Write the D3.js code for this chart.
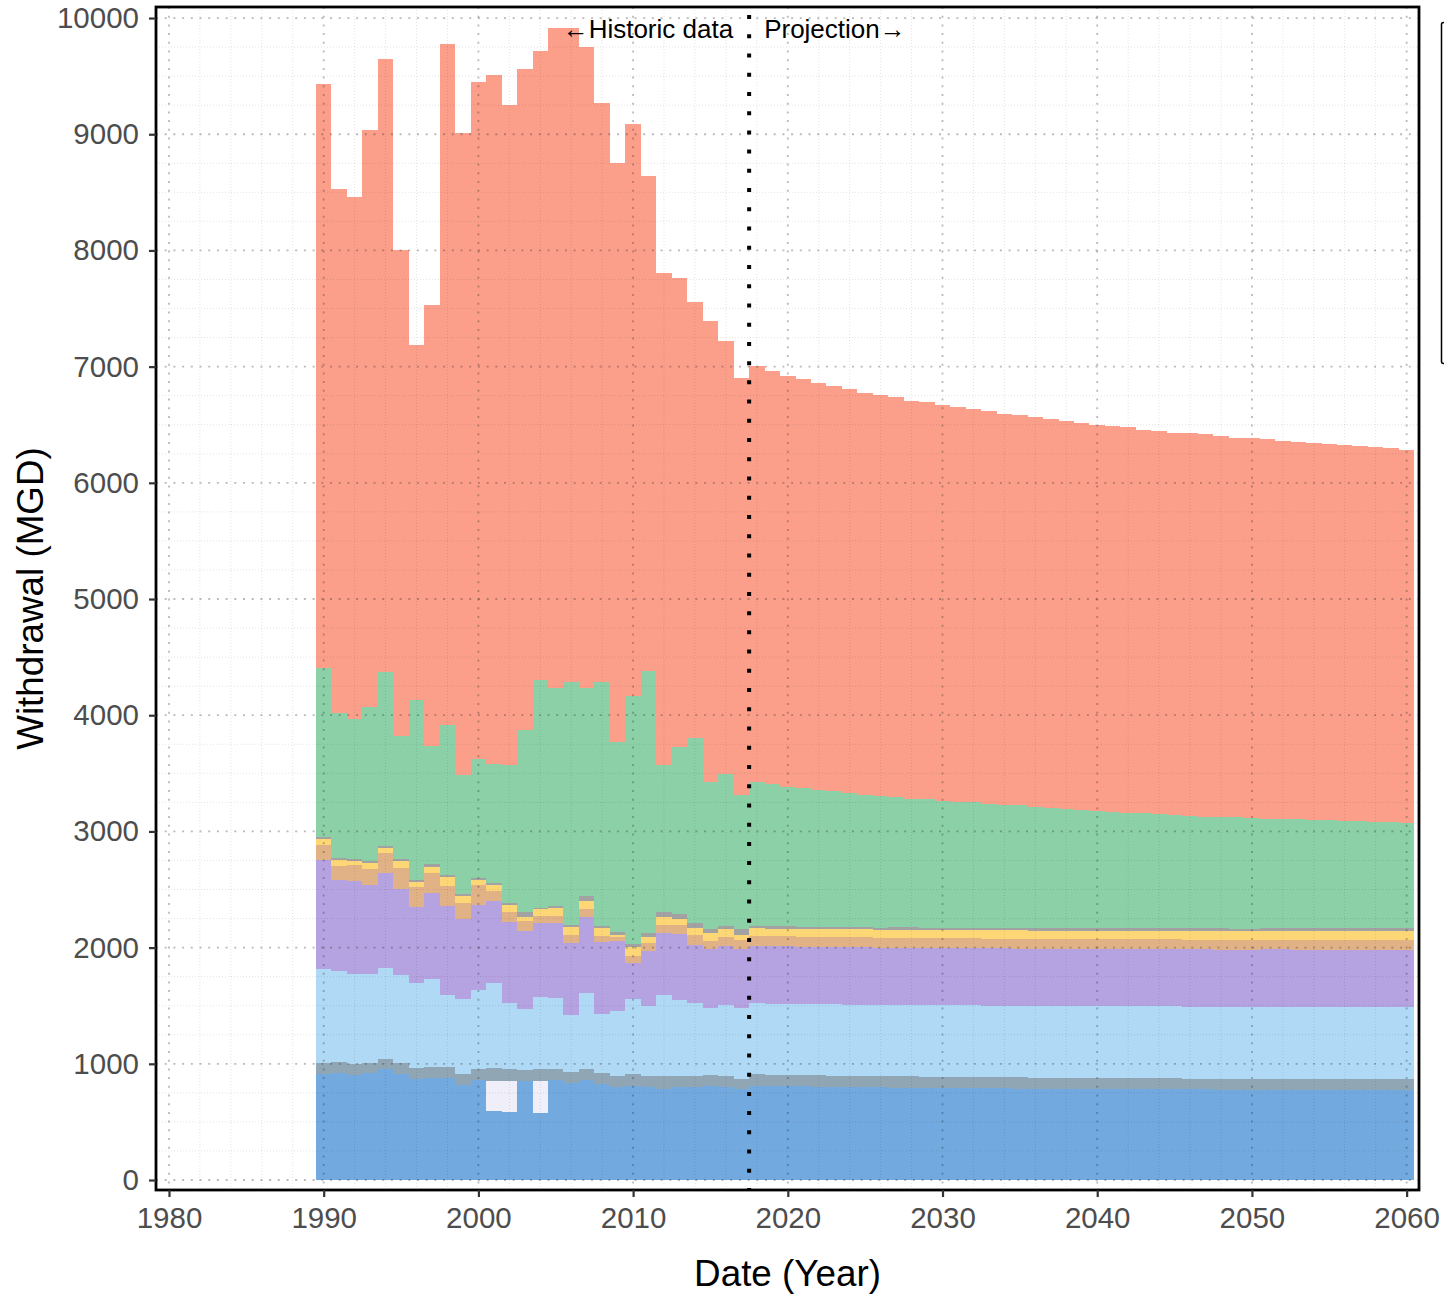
<!DOCTYPE html>
<html>
<head>
<meta charset="utf-8">
<script src="https://cdn.jsdelivr.net/npm/d3@7"></script>
<style>
  body { margin: 0; background: #fff; }
  svg { display: block; }
  text { font-family: "Liberation Sans", Arial, sans-serif; }
</style>
</head>
<body>
<svg id="chart" width="1444" height="1295"></svg>
<script>
// Annual withdrawal by sector, 1990-2017 historic, 2018-2060 projected (MGD)
const years = d3.range(1990, 2061);

// Stacked from the bottom up
const darkBlue = [
  912, 924, 906, 918, 953, 912, 869, 881, 881, 815, 860, 594, 582, 852, 573, 861, 838, 858, 829, 798,
  812, 803, 783, 803, 803, 809, 803, 780,
  812, 810, 808, 806, 804, 802, 800, 799, 797, 796, 795, 793, 792, 791, 790, 789, 788, 787, 786, 785,
  785, 784, 783, 782, 782, 781, 780, 780, 779, 779, 778, 778, 777, 777, 777, 776, 776, 776, 775, 775,
  775, 775, 775
];
const lavender = [
  0, 0, 0, 0, 0, 0, 0, 0, 0, 0, 0, 261, 273, 0, 282, 0, 0, 0, 0, 0,
  0, 0, 0, 0, 0, 0, 0, 0,
  0, 0, 0, 0, 0, 0, 0, 0, 0, 0, 0, 0, 0, 0, 0, 0, 0, 0, 0, 0,
  0, 0, 0, 0, 0, 0, 0, 0, 0, 0, 0, 0, 0, 0, 0, 0, 0, 0, 0, 0,
  0, 0, 0
];
const slate = [
  98, 91, 92, 92, 91, 92, 92, 89, 89, 94, 98, 106, 98, 95, 100, 97, 94, 95, 95, 97,
  97, 92, 112, 92, 92, 92, 92, 92,
  97, 97, 97, 97, 97, 97, 97, 97, 96, 96, 96, 96, 96, 96, 96, 96, 96, 96, 95, 95,
  95, 95, 95, 95, 95, 95, 95, 95, 94, 94, 94, 94, 94, 94, 94, 94, 94, 94, 94, 94,
  94, 94, 94
];
const skyBlue = [
  803, 786, 775, 763, 778, 758, 737, 763, 622, 646, 677, 737, 573, 522, 620, 611, 488, 654, 505, 559,
  646, 602, 697, 654, 625, 576, 611, 605,
  611, 611, 611, 612, 612, 612, 612, 614, 614, 614, 614, 614, 614, 616, 616, 616, 616, 616, 616, 618,
  618, 618, 618, 618, 618, 620, 620, 620, 620, 620, 620, 620, 620, 622, 622, 622, 622, 622, 622, 623,
  623, 623, 623
];
const purple = [
  941, 781, 797, 763, 823, 742, 654, 734, 769, 688, 732, 703, 697, 674, 634, 646, 622, 654, 622, 606,
  315, 474, 531, 568, 502, 508, 508, 508,
  494, 494, 494, 494, 494, 494, 494, 494, 493, 493, 493, 493, 493, 493, 493, 493, 493, 493, 492, 492,
  492, 492, 492, 492, 492, 492, 492, 492, 491, 491, 491, 491, 491, 491, 491, 490, 490, 490, 490, 490,
  490, 490, 490
];
const tan = [
  129, 123, 141, 138, 166, 178, 172, 178, 169, 138, 172, 86, 83, 86, 63, 60, 66, 69, 49, 34,
  58, 66, 71, 77, 86, 75, 75, 80,
  86, 86, 86, 86, 86, 85, 85, 85, 85, 85, 85, 85, 85, 84, 84, 84, 84, 84, 84, 84,
  84, 84, 83, 83, 83, 83, 83, 83, 83, 83, 83, 82, 82, 82, 82, 82, 82, 82, 81, 81,
  81, 81, 81
];
const yellow = [
  52, 49, 34, 57, 49, 66, 41, 52, 75, 63, 43, 52, 61, 37, 58, 63, 67, 71, 66, 14,
  75, 57, 72, 52, 58, 63, 68, 43,
  66, 66, 66, 66, 68, 68, 68, 68, 68, 70, 70, 70, 70, 70, 70, 72, 72, 72, 72, 72,
  72, 74, 74, 74, 74, 74, 74, 76, 76, 76, 76, 76, 76, 78, 78, 78, 78, 78, 80, 80,
  80, 80, 80
];
const gray = [
  14, 20, 17, 17, 17, 17, 14, 20, 17, 17, 17, 17, 14, 43, 14, 23, 22, 40, 23, 24,
  31, 29, 43, 40, 43, 37, 29, 49,
  20, 20, 20, 20, 20, 20, 20, 20, 20, 20, 21, 21, 21, 21, 21, 21, 21, 21, 21, 21,
  22, 22, 22, 22, 22, 22, 22, 22, 22, 22, 23, 23, 23, 23, 23, 23, 23, 23, 23, 23,
  23, 23, 23
];
const green = [
  1460, 1242, 1203, 1326, 1492, 1059, 1552, 1021, 1297, 1022, 1024, 1027, 1188, 1561, 1959, 1870, 2086, 1793, 2097, 1640,
  2134, 2255, 1262, 1443, 1595, 1265, 1308, 1156,
  1236, 1227, 1203, 1190, 1175, 1167, 1157, 1136, 1134, 1125, 1102, 1104, 1093, 1082, 1080, 1067, 1054, 1055, 1047, 1034,
  1022, 1018, 1009, 1004, 990, 992, 984, 976, 968, 956, 959, 957, 949, 940, 940, 939, 933, 933, 928, 921,
  918, 912, 909
];
const salmon = [
  5021, 4514, 4495, 4966, 5281, 4176, 3059, 3792, 5861, 5527, 5827, 5927, 5681, 5690, 5417, 5679, 5627, 5516, 4984, 4978,
  4922, 4262, 4239, 4031, 3756, 3965, 3726, 3587,
  3583, 3554, 3534, 3519, 3506, 3488, 3477, 3463, 3449, 3437, 3431, 3417, 3406, 3397, 3385, 3377, 3368, 3357, 3353, 3348,
  3339, 3328, 3324, 3319, 3324, 3298, 3299, 3287, 3293, 3296, 3276, 3265, 3274, 3270, 3250, 3245, 3245, 3236, 3232, 3230,
  3224, 3219, 3210
];

const xTicks = [1980, 1990, 2000, 2010, 2020, 2030, 2040, 2050, 2060];
const yTicks = [0, 1000, 2000, 3000, 4000, 5000, 6000, 7000, 8000, 9000, 10000];
const splitYear = 2017.5;

const seriesData = { darkBlue, lavender, slate, skyBlue, purple, tan, yellow, gray, green, salmon };
const keys = Object.keys(seriesData);
const colors = {
  darkBlue: "#72A9DF", lavender: "#EFEEF9", slate: "#90A6B4", skyBlue: "#B0D9F5",
  purple: "#B5A2E0", tan: "#E2B287", yellow: "#FDD776", gray: "#A2A2A2",
  green: "#8BD0A7", salmon: "#FB9F8B"
};

const svg = d3.select("#chart");
const panel = { left: 156, right: 1419, top: 7, bottom: 1190 };

const x = d3.scaleLinear().domain([1979.16, 2060.8]).range([panel.left, panel.right]);
const y = d3.scaleLinear().domain([-86, 10095]).range([panel.bottom, panel.top]);

const table = years.map((yr, i) => {
  const row = { year: yr };
  keys.forEach(k => { row[k] = seriesData[k][i]; });
  return row;
});
const stacked = d3.stack().keys(keys)(table);

// one-year-wide steps centred on each year
const area = d3.area()
  .x(d => x(d.x))
  .y0(d => y(d.y0))
  .y1(d => y(d.y1));

const fills = svg.append("g");
stacked.forEach(s => {
  const pts = [];
  s.forEach(d => {
    pts.push({ x: d.data.year - 0.5, y0: d[0], y1: d[1] });
    pts.push({ x: d.data.year + 0.5, y0: d[0], y1: d[1] });
  });
  fills.append("path")
    .attr("d", area(pts))
    .attr("fill", colors[s.key])
    .attr("shape-rendering", "crispEdges");
});

// grid: minor every 2 years / 250 MGD, major every 10 years / 1000 MGD
const grid = svg.append("g");
const xMinor = d3.range(1982, 2060, 2).filter(v => v % 10 !== 0);
const yMinor = d3.range(250, 10000, 250).filter(v => v % 1000 !== 0);
grid.selectAll(".xmin").data(xMinor).join("line")
  .attr("x1", d => x(d)).attr("x2", d => x(d))
  .attr("y1", panel.top).attr("y2", panel.bottom)
  .attr("stroke", "rgba(0,0,0,0.11)").attr("stroke-width", 1).attr("stroke-dasharray", "1,2");
grid.selectAll(".ymin").data(yMinor).join("line")
  .attr("x1", panel.left).attr("x2", panel.right)
  .attr("y1", d => y(d)).attr("y2", d => y(d))
  .attr("stroke", "rgba(0,0,0,0.11)").attr("stroke-width", 1).attr("stroke-dasharray", "1,2");
grid.selectAll(".xmaj").data(xTicks).join("line")
  .attr("x1", d => x(d)).attr("x2", d => x(d))
  .attr("y1", panel.top).attr("y2", panel.bottom)
  .attr("stroke", "rgba(40,40,40,0.32)").attr("stroke-width", 1.8).attr("stroke-dasharray", "2,6.7");
grid.selectAll(".ymaj").data(yTicks).join("line")
  .attr("x1", panel.left).attr("x2", panel.right)
  .attr("y1", d => y(d)).attr("y2", d => y(d))
  .attr("stroke", "rgba(40,40,40,0.32)").attr("stroke-width", 1.8).attr("stroke-dasharray", "2,6.7");

// historic / projection divider
svg.append("line")
  .attr("x1", x(splitYear)).attr("x2", x(splitYear))
  .attr("y1", panel.top + 8).attr("y2", panel.bottom)
  .attr("stroke", "#000").attr("stroke-width", 4).attr("stroke-dasharray", "4,15.23");

svg.append("text")
  .attr("x", x(splitYear) - 16).attr("y", 38)
  .attr("text-anchor", "end").attr("font-size", 26).attr("fill", "#000")
  .text("←Historic data");
svg.append("text")
  .attr("x", x(splitYear) + 15).attr("y", 38)
  .attr("text-anchor", "start").attr("font-size", 26).attr("fill", "#000")
  .text("Projection→");

// panel border
svg.append("rect")
  .attr("x", panel.left).attr("y", panel.top)
  .attr("width", panel.right - panel.left).attr("height", panel.bottom - panel.top)
  .attr("fill", "none").attr("stroke", "#000").attr("stroke-width", 2.8);

// axes
const yAxis = svg.append("g")
  .attr("transform", `translate(${panel.left},0)`)
  .call(d3.axisLeft(y).tickValues(yTicks).tickFormat(d3.format("d")).tickSize(7).tickPadding(10));
const xAxis = svg.append("g")
  .attr("transform", `translate(0,${panel.bottom})`)
  .call(d3.axisBottom(x).tickValues(xTicks).tickFormat(d3.format("d")).tickSize(7).tickPadding(10));
[yAxis, xAxis].forEach(a => {
  a.select(".domain").remove();
  a.selectAll(".tick line").attr("stroke", "#333").attr("stroke-width", 2.2);
  a.selectAll(".tick text")
    .attr("fill", "#4D4D4D")
    .style("font-size", "29.5px")
    .style("font-family", '"Liberation Sans", Arial, sans-serif');
});

// axis titles
svg.append("text")
  .attr("transform", `translate(43,${(panel.top + panel.bottom) / 2}) rotate(-90)`)
  .attr("text-anchor", "middle").attr("font-size", 36.8).attr("fill", "#000")
  .text("Withdrawal (MGD)");
svg.append("text")
  .attr("x", (panel.left + panel.right) / 2).attr("y", 1286)
  .attr("text-anchor", "middle").attr("font-size", 36.8).attr("fill", "#000")
  .text("Date (Year)");

// legend frame, mostly beyond the right edge
svg.append("rect")
  .attr("x", 1441.5).attr("y", 22.5).attr("width", 120).attr("height", 341)
  .attr("rx", 2).attr("fill", "#fff").attr("stroke", "#000").attr("stroke-width", 1.5);
</script>
</body>
</html>
